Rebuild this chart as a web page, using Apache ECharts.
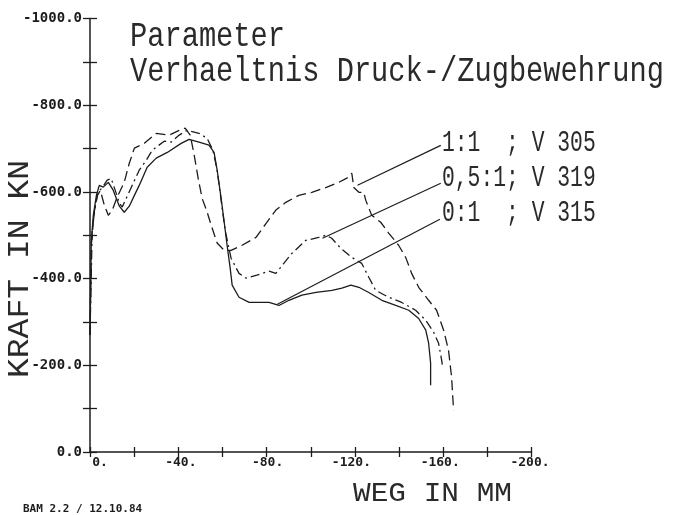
<!DOCTYPE html>
<html><head><meta charset="utf-8">
<script src="https://cdn.jsdelivr.net/npm/echarts@6/dist/echarts.min.js"></script>
<style>html,body{margin:0;padding:0;background:#fff}#c{width:677px;height:515px}</style>
</head><body><div id="c"></div>
<script>
// ---- data ----
const seriesNames = ["1:1  ; V 305", "0,5:1; V 319", "0:1  ; V 315"];
const xTickValues = [0, -40, -80, -120, -160, -200];
const xTickLabels = ["0.", "-40.", "-80.", "-120.", "-160.", "-200."];
const yTickValues = [0, -200, -400, -600, -800, -1000];
const yTickLabels = ["0.0", "-200.0", "-400.0", "-600.0", "-800.0", "-1000.0"];

// V 305 (1:1), dashed
const v305X = [0, -0.6, -1.9, -3.3, -4.7, -6.5, -8.3, -10.1, -12.3, -15.5, -17.8, -20.1, -24.6, -30.0, -35.9, -40.4, -43.1, -45.4, -47.2, -49.0, -50.8, -53.1, -54.9, -57.6, -60.8, -63.9, -68.9, -75.2, -79.7, -84.2, -88.7, -94.6, -100.5, -106.8, -112.7, -117.2, -118.6, -119.5, -121.8, -124.0, -124.9, -127.6, -131.7, -135.3, -139.8, -143.0, -145.7, -148.9, -153.4, -157.0, -160.2, -162.4, -163.8, -164.7];
const v305Y = [-270, -477, -553, -592, -603, -569, -546, -558, -588, -622, -666, -701, -712, -735, -731, -742, -747, -731, -685, -631, -585, -553, -523, -482, -465, -465, -477, -495, -527, -558, -576, -592, -599, -610, -622, -634, -643, -610, -599, -599, -581, -546, -530, -505, -477, -449, -412, -380, -350, -327, -281, -235, -173, -96];

// V 319 (0,5:1), dash-dot
const v319X = [0, -1.0, -2.4, -3.7, -6.0, -7.8, -9.6, -11.4, -13.3, -14.6, -16.4, -19.1, -22.3, -25.5, -28.2, -33.6, -36.8, -40.4, -44.0, -49.4, -53.0, -55.7, -57.6, -59.4, -61.2, -63.9, -67.5, -70.7, -75.6, -81.1, -84.2, -87.8, -91.4, -97.7, -103.6, -106.8, -109.5, -113.6, -118.6, -123.1, -126.3, -129.4, -135.3, -141.2, -147.5, -152.1, -155.7, -157.9, -159.3, -159.8];
const v319Y = [-270, -512, -569, -599, -613, -627, -631, -604, -574, -565, -585, -615, -650, -673, -696, -717, -715, -731, -742, -735, -724, -696, -650, -581, -512, -447, -412, -401, -408, -417, -412, -435, -458, -488, -495, -500, -493, -470, -449, -435, -403, -373, -357, -345, -327, -304, -276, -251, -212, -193];

// V 315 (0:1), solid
const v315X = [0, -0.6, -1.5, -2.9, -4.2, -6.0, -8.3, -10.5, -13.3, -15.5, -17.8, -20.1, -22.3, -25.9, -30.0, -35.0, -41.3, -44.9, -49.4, -53.9, -56.2, -57.6, -59.4, -60.8, -62.1, -63.5, -64.4, -67.5, -72.1, -77.9, -81.1, -85.6, -90.1, -96.0, -102.4, -109.6, -114.1, -118.2, -121.8, -126.3, -132.2, -138.5, -144.4, -148.9, -152.1, -153.4, -154.3, -154.3];
const v315Y = [-270, -488, -546, -592, -615, -611, -622, -604, -567, -553, -567, -592, -615, -657, -678, -691, -712, -721, -715, -708, -691, -650, -585, -530, -477, -424, -385, -357, -345, -345, -345, -338, -350, -362, -368, -373, -378, -385, -380, -368, -350, -338, -327, -308, -281, -251, -205, -154];

// leader lines: point on curve -> label anchor
const leaderCurveX = [-121.2, -105.3, -84.9];
const leaderCurveY = [-615.2, -493.1, -341.0];
const leaderLabelX = [-158.9, -158.9, -158.5];
const leaderLabelY = [-707.4, -619.8, -536.9];

// ---- chart ----
const INK = '#1c1c1c';
const zip = (xs, ys) => xs.map((x, i) => [x, ys[i]]);
const chart = echarts.init(document.getElementById('c'), null, {renderer: 'canvas'});

const tickFont = {fontFamily: '"DejaVu Sans Mono", monospace', fontWeight: 'bold', fontSize: 13, color: INK};
const xShift = [[0,0,0,20],[0,0,0,5],[0,0,0,2],[0,7,0,0],[0,6,0,0],[0,3,0,0]];
const xRich = {};
xShift.forEach((p, i) => { xRich['s' + i] = Object.assign({padding: p}, tickFont); });

const baseX = {type: 'value', gridIndex: 0, min: -200, max: 0, interval: 20, inverse: true, position: 'bottom', splitLine: {show: false}};
const baseY = {type: 'value', gridIndex: 0, min: -1000, max: 0, interval: 100, inverse: true, position: 'left', splitLine: {show: false}};

const lineSeries = (name, xs, ys, type) => ({
  name, type: 'line', xAxisIndex: 0, yAxisIndex: 0, data: zip(xs, ys),
  showSymbol: false, symbol: 'none', smooth: false, silent: true,
  lineStyle: {color: INK, width: 1.3, type: type}
});

const series = [
  lineSeries(seriesNames[0], v305X, v305Y, [10, 5]),
  lineSeries(seriesNames[1], v319X, v319Y, [9, 4, 2, 4]),
  lineSeries(seriesNames[2], v315X, v315Y, 'solid')
];
for (let i = 0; i < 3; i++) {
  series.push({
    type: 'line', xAxisIndex: 0, yAxisIndex: 0, silent: true, showSymbol: false, symbol: 'none',
    data: [[leaderCurveX[i], leaderCurveY[i]], [leaderLabelX[i], leaderLabelY[i]]],
    lineStyle: {color: INK, width: 1.2, type: 'solid'}
  });
}

const plotFont = '"Liberation Mono", "DejaVu Sans Mono", monospace';
const PLOT_INK = '#2a2a2a';
const labelY = [143.5, 178, 213];
const graphic = [
  {type: 'text', x: 130, y: 37, scaleX: 0.82, style: {text: 'Parameter', fontFamily: plotFont, fontSize: 35, fill: PLOT_INK, align: 'left', verticalAlign: 'middle'}},
  {type: 'text', x: 130, y: 72, scaleX: 0.82, style: {text: 'Verhaeltnis Druck-/Zugbewehrung', fontFamily: plotFont, fontSize: 35, fill: PLOT_INK, align: 'left', verticalAlign: 'middle'}},
  {type: 'text', x: 20, y: 269, rotation: Math.PI / 2, scaleX: 1.14, style: {text: 'KRAFT IN KN', fontFamily: plotFont, fontSize: 29, fill: PLOT_INK, align: 'center', verticalAlign: 'middle'}},
  {type: 'text', x: 432.5, y: 494, scaleX: 1.09, style: {text: 'WEG IN MM', fontFamily: plotFont, fontSize: 27, fill: PLOT_INK, align: 'center', verticalAlign: 'middle'}},
  {type: 'text', x: 23, y: 509, style: {text: 'BAM 2.2 / 12.10.84', fontFamily: '"DejaVu Sans Mono", monospace', fontWeight: 'bold', fontSize: 11, fill: INK, align: 'left', verticalAlign: 'middle'}}
];
seriesNames.forEach((n, i) => {
  graphic.push({type: 'text', x: 442, y: labelY[i], scaleX: 0.736, style: {text: n, fontFamily: plotFont, fontSize: 29, fill: PLOT_INK, align: 'left', verticalAlign: 'middle'}});
});

chart.setOption({
  animation: false,
  backgroundColor: '#ffffff',
  grid: {left: 90, right: 145.5, top: 18.5, bottom: 63, containLabel: false},
  xAxis: [
    Object.assign({}, baseX, {
      axisLine: {show: true, lineStyle: {color: INK, width: 1.5}},
      axisTick: {show: true, inside: false, length: 5, lineStyle: {color: INK, width: 1.3}},
      axisLabel: {show: true, margin: 4, showMinLabel: true, showMaxLabel: true,
        formatter: v => { const i = xTickValues.indexOf(v); return i < 0 ? '' : '{s' + i + '|' + xTickLabels[i] + '}'; },
        rich: xRich}
    }),
    Object.assign({}, baseX, {
      axisLine: {show: false},
      axisTick: {show: true, inside: true, length: 5, lineStyle: {color: INK, width: 1.3}},
      axisLabel: {show: false}
    })
  ],
  yAxis: [
    Object.assign({}, baseY, {
      axisLine: {show: true, lineStyle: {color: INK, width: 1.5}},
      axisTick: {show: true, inside: false, length: 7, lineStyle: {color: INK, width: 1.3}},
      axisLabel: Object.assign({show: true, margin: 8, showMinLabel: true, showMaxLabel: true,
        formatter: v => { const i = yTickValues.indexOf(v); return i < 0 ? '' : yTickLabels[i]; }}, tickFont, {fontSize: 14})
    }),
    Object.assign({}, baseY, {
      axisLine: {show: false},
      axisTick: {show: true, inside: true, length: 7, lineStyle: {color: INK, width: 1.3}},
      axisLabel: {show: false}
    })
  ],
  series: series,
  graphic: graphic
});
</script>
</body></html>
